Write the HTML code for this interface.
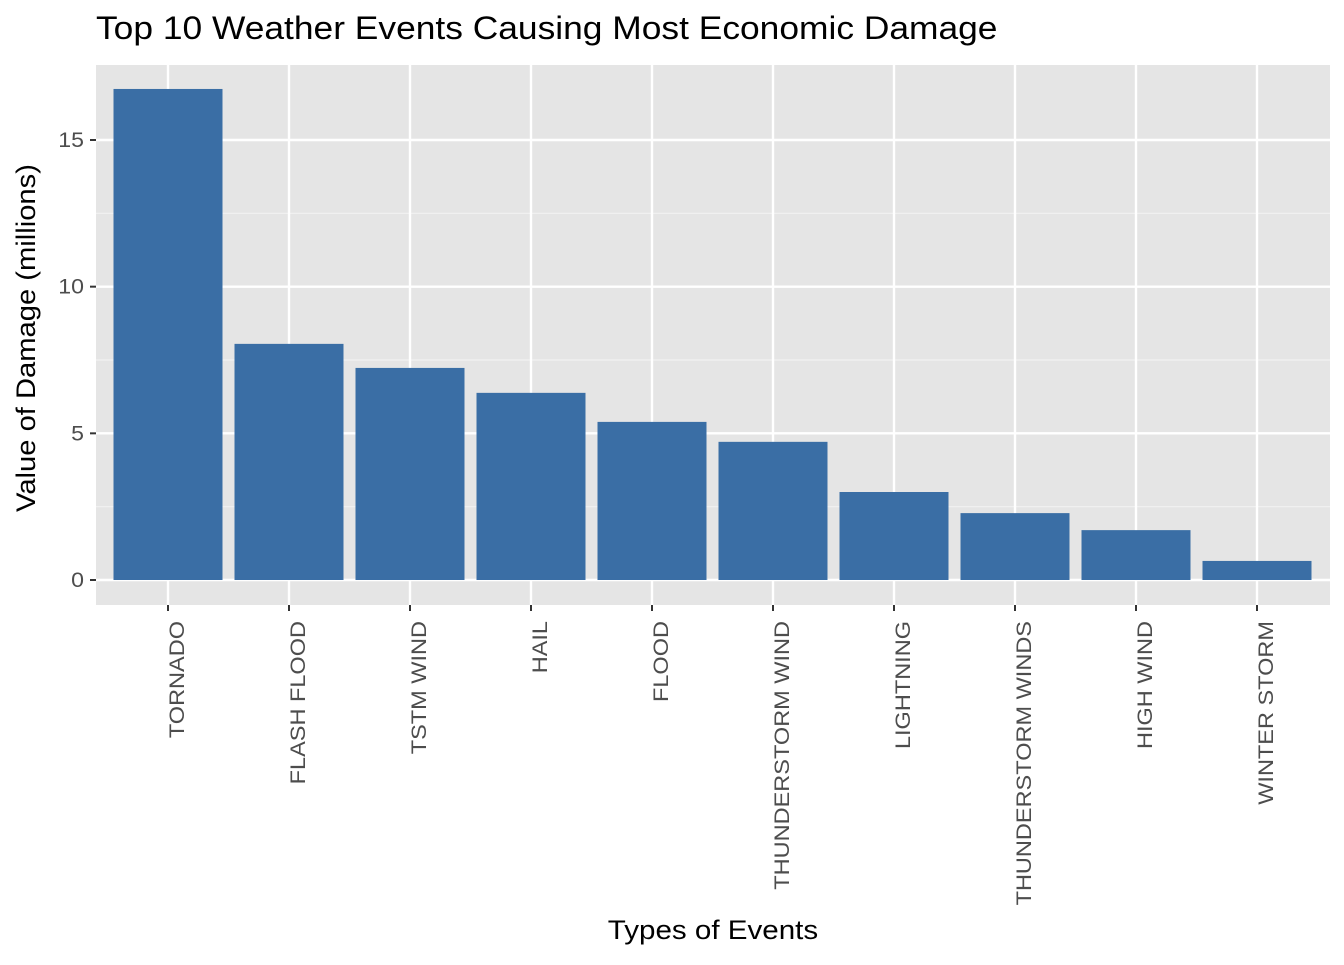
<!DOCTYPE html>
<html><head><meta charset="utf-8"><style>
html,body{margin:0;padding:0;background:#fff;}
text{font-family:"Liberation Sans",Arial,sans-serif;}
</style></head><body>
<svg id="chart" width="1344" height="960">
<text id="title" x="96" y="39" font-size="32" fill="#000">Top 10 Weather Events Causing Most Economic Damage</text>
<rect x="96" y="65" width="1234" height="540" fill="#e5e5e5"/>
<g id="grid"></g><g id="bars"></g><g id="axes"></g>
<text id="xt" x="713" y="939" font-size="27" text-anchor="middle" fill="#000">Types of Events</text>
<text id="yt" transform="translate(35,338) rotate(-90)" font-size="27" text-anchor="middle" fill="#000">Value of Damage (millions)</text>
</svg>
<script>
const categories=["TORNADO","FLASH FLOOD","TSTM WIND","HAIL","FLOOD","THUNDERSTORM WIND","LIGHTNING","THUNDERSTORM WINDS","HIGH WIND","WINTER STORM"];
const values=[16.74,8.05,7.23,6.38,5.39,4.71,3.0,2.28,1.70,0.65];
const yTicks=[0,5,10,15];
const NS="http://www.w3.org/2000/svg";
const y=v=>580-v*(440/15);
const x=i=>168+i*121;
const bw=109;
function mk(t,a,p){const e=document.createElementNS(NS,t);for(const k in a)e.setAttribute(k,a[k]);p.appendChild(e);return e;}
function widen(el,f){const w=el.getComputedTextLength();el.setAttribute('textLength',w*f);el.setAttribute('lengthAdjust','spacingAndGlyphs');}
const grid=document.getElementById('grid'),bars=document.getElementById('bars'),axes=document.getElementById('axes');
[2.5,7.5,12.5].forEach(v=>{const l=mk('line',{x1:96,x2:1330,y1:y(v),y2:y(v),stroke:'#f2f2f2','stroke-width':1.2},grid);

});
yTicks.forEach(v=>{const l=mk('line',{x1:96,x2:1330,y1:y(v),y2:y(v),stroke:'#fff','stroke-width':2.4},grid);


const tk=mk('line',{x1:90,x2:96,y1:y(v),y2:y(v),stroke:'#333','stroke-width':2},axes);


const t=mk('text',{x:84,y:y(v)+7,'font-size':21,'text-anchor':'end',fill:'#4d4d4d'},axes);t.textContent=v;


widen(t,1.1);});
categories.forEach((c,i)=>{const l=mk('line',{x1:x(i),x2:x(i),y1:65,y2:605,stroke:'#fff','stroke-width':2.4},grid);


const r=mk('rect',{x:x(i)-bw/2,y:y(values[i]),width:bw,height:y(0)-y(values[i]),fill:'#3a6ea5'},bars);


const tk=mk('line',{x1:x(i),x2:x(i),y1:605,y2:611,stroke:'#333','stroke-width':2},axes);


const t=mk('text',{transform:`translate(${x(i)+16},621) rotate(-90)`,'font-size':21,'text-anchor':'end',fill:'#4d4d4d'},axes);t.textContent=c;


widen(t,1.12);});
widen(document.getElementById('title'),1.105);
widen(document.getElementById('xt'),1.095);
widen(document.getElementById('yt'),1.08);
</script>
</body></html>
